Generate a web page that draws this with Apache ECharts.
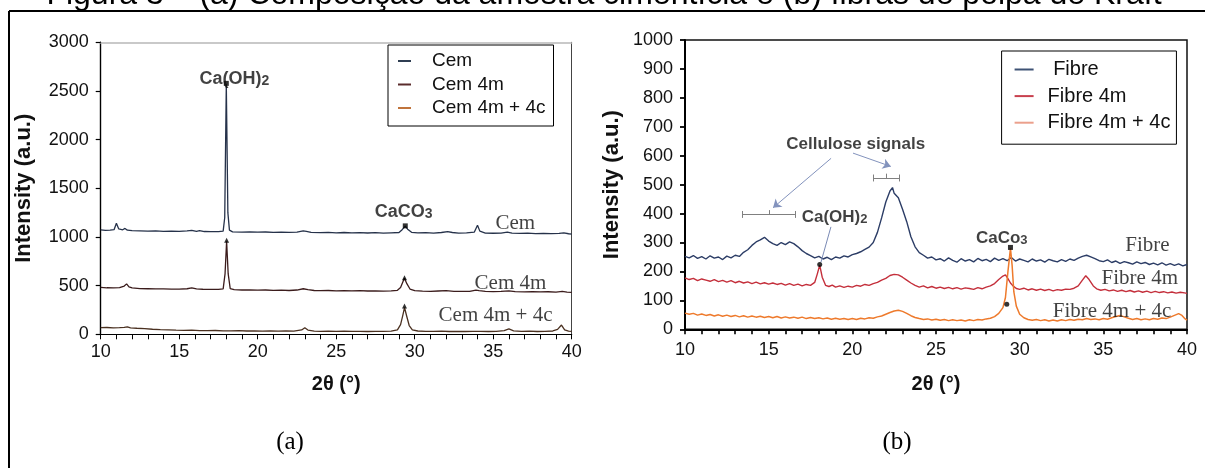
<!DOCTYPE html>
<html><head><meta charset="utf-8">
<script src="https://cdn.jsdelivr.net/npm/echarts@6/dist/echarts.min.js"></script>
<style>html,body{margin:0;padding:0;background:#fff}#c{width:1205px;height:468px}</style>
</head><body><div id="c"></div>
<script>
// ---------- data ----------
const xTickLabels = [10, 15, 20, 25, 30, 35, 40];
const namesA = ['Cem', 'Cem 4m', 'Cem 4m + 4c'];
const namesB = ['Fibre', 'Fibre 4m', 'Fibre 4m + 4c'];

const cem = [[10,1072],[10.3,1068],[10.6,1070],[10.85,1075],[11.0,1140],[11.15,1082],[11.4,1074],[11.55,1088],[11.7,1070],[12,1066],[12.5,1063],[13,1060],[13.5,1062],[14,1058],[14.5,1060],[15,1057],[15.5,1062],[15.8,1068],[16.1,1058],[16.3,1065],[16.6,1056],[17,1055],[17.5,1054],[17.8,1060],[17.9,1200],[18.0,2570],[18.1,1250],[18.2,1070],[18.4,1052],[19,1050],[19.5,1052],[20,1049],[20.5,1051],[21,1048],[21.5,1050],[22,1048],[22.5,1050],[22.9,1062],[23.1,1058],[23.4,1048],[24,1045],[24.5,1047],[25,1043],[25.5,1046],[26,1042],[26.5,1045],[27,1041],[27.5,1044],[28,1040],[28.5,1043],[29.0,1046],[29.2,1075],[29.4,1112],[29.55,1080],[29.8,1048],[30.2,1042],[30.7,1044],[31.2,1040],[31.7,1046],[32.1,1055],[32.4,1046],[32.8,1040],[33.3,1042],[33.8,1050],[34.0,1120],[34.15,1060],[34.5,1040],[35,1038],[35.5,1040],[35.9,1050],[36.2,1040],[36.7,1037],[37.2,1039],[37.7,1035],[38.2,1037],[38.7,1034],[39.2,1036],[39.5,1042],[39.8,1033],[40,1030]];
const cem4m = [[10,482],[10.4,478],[10.8,476],[11.2,480],[11.5,496],[11.65,518],[11.8,488],[12,476],[12.5,470],[13,468],[13.5,466],[14,467],[14.5,465],[15,464],[15.5,468],[15.8,478],[16.1,466],[16.5,463],[17,462],[17.5,461],[17.8,466],[17.92,620],[18.02,955],[18.12,620],[18.25,470],[18.5,458],[19,455],[19.5,457],[20,453],[20.5,455],[21,452],[21.5,453],[22,450],[22.5,455],[22.9,468],[23.2,458],[23.6,450],[24,448],[24.5,450],[25,447],[25.5,449],[26,446],[26.5,448],[27,445],[27.5,447],[28,444],[28.5,446],[28.9,452],[29.1,480],[29.25,540],[29.35,575],[29.5,520],[29.7,465],[30,448],[30.5,444],[31,442],[31.5,445],[32,448],[32.5,442],[33,440],[33.5,442],[33.9,455],[34.1,448],[34.5,440],[35,438],[35.5,440],[36,446],[36.4,438],[37,436],[37.5,438],[38,435],[38.5,437],[39,434],[39.4,440],[39.7,433],[40,430]];
const cem4m4c = [[10,68],[10.4,70],[10.8,67],[11.2,69],[11.5,72],[11.7,76],[11.9,66],[12.3,62],[12.8,58],[13.3,52],[13.8,48],[14.3,45],[14.8,42],[15.3,40],[15.8,42],[16.3,38],[16.8,37],[17.3,39],[17.8,36],[18.3,35],[18.8,37],[19.3,34],[19.8,36],[20.3,33],[20.8,35],[21.3,32],[21.8,34],[22.3,33],[22.8,45],[23.0,68],[23.2,44],[23.6,33],[24,31],[24.5,33],[25,30],[25.5,32],[26,30],[26.5,31],[27,29],[27.5,31],[28,30],[28.5,33],[28.9,45],[29.1,100],[29.25,200],[29.35,275],[29.5,180],[29.65,90],[29.85,45],[30.2,34],[30.7,31],[31.2,30],[31.7,32],[32.2,29],[32.7,31],[33.2,29],[33.7,31],[34.2,30],[34.7,29],[35.2,31],[35.7,38],[36.0,55],[36.3,36],[36.8,30],[37.3,32],[37.8,29],[38.3,31],[38.8,34],[39.1,50],[39.35,95],[39.55,45],[39.8,32],[40,30]];

const fibre = [[10,252],[10.25,247],[10.5,255],[10.75,245],[11,251],[11.25,243],[11.5,254],[11.75,246],[12,250],[12.25,241],[12.5,253],[12.75,247],[13,256],[13.25,252],[13.5,266],[13.75,275],[14,290],[14.25,302],[14.5,309],[14.75,318],[15,305],[15.25,296],[15.5,290],[15.75,300],[16,293],[16.25,302],[16.5,296],[16.75,285],[17,272],[17.25,262],[17.5,255],[17.75,247],[18,252],[18.25,243],[18.5,249],[18.75,241],[19,250],[19.25,246],[19.5,254],[19.75,250],[20,258],[20.25,262],[20.5,268],[20.75,276],[21,284],[21.25,300],[21.5,335],[21.75,385],[22,440],[22.25,478],[22.4,490],[22.5,470],[22.75,455],[23,415],[23.25,372],[23.5,320],[23.75,285],[24,265],[24.25,256],[24.5,246],[24.75,250],[25,240],[25.25,244],[25.5,236],[25.75,247],[26,238],[26.25,232],[26.5,244],[26.75,236],[27,241],[27.25,233],[27.5,245],[27.75,237],[28,242],[28.25,234],[28.5,246],[28.75,238],[29,244],[29.25,237],[29.5,248],[29.75,236],[30,243],[30.25,238],[30.5,233],[30.75,243],[31,236],[31.25,240],[31.5,232],[31.75,242],[32,237],[32.25,233],[32.5,241],[32.75,235],[33,243],[33.25,238],[33.5,246],[33.75,252],[34,256],[34.25,250],[34.5,244],[34.75,237],[35,234],[35.25,240],[35.5,231],[35.75,236],[36,228],[36.25,234],[36.5,230],[36.75,225],[37,233],[37.25,227],[37.5,231],[37.75,224],[38,229],[38.25,223],[38.5,230],[38.75,222],[39,227],[39.25,221],[39.5,226],[39.75,219],[40,224]];
const fibre4m = [[10,178],[10.25,172],[10.5,176],[10.75,168],[11,174],[11.25,170],[11.5,166],[11.75,172],[12,165],[12.25,169],[12.5,163],[12.75,168],[13,161],[13.25,166],[13.5,160],[13.75,164],[14,158],[14.25,163],[14.5,157],[14.75,161],[15,156],[15.25,160],[15.5,155],[15.75,159],[16,153],[16.25,158],[16.5,152],[16.75,156],[17,150],[17.25,155],[17.5,152],[17.75,162],[17.9,190],[18.05,222],[18.2,180],[18.4,152],[18.6,148],[18.8,153],[19,146],[19.25,150],[19.5,145],[19.75,149],[20,146],[20.25,152],[20.5,149],[20.75,155],[21,152],[21.25,158],[21.5,162],[21.75,170],[22,176],[22.25,186],[22.5,190],[22.75,188],[23,180],[23.25,170],[23.5,160],[23.75,152],[24,146],[24.25,150],[24.5,143],[24.75,148],[25,142],[25.25,146],[25.5,141],[25.75,145],[26,140],[26.25,144],[26.5,139],[26.75,143],[27,141],[27.25,138],[27.5,144],[27.75,140],[28,146],[28.25,150],[28.5,158],[28.75,172],[29,184],[29.15,188],[29.3,175],[29.45,160],[29.6,150],[29.8,141],[30,138],[30.25,142],[30.5,136],[30.75,140],[31,135],[31.25,139],[31.5,134],[31.75,138],[32,133],[32.25,137],[32.5,135],[32.75,139],[33,138],[33.25,142],[33.5,150],[33.75,170],[33.95,185],[34.15,172],[34.4,150],[34.6,140],[34.85,135],[35.1,138],[35.35,133],[35.6,136],[35.85,131],[36.1,135],[36.35,130],[36.6,134],[36.85,129],[37.1,133],[37.35,128],[37.6,132],[37.85,127],[38.1,131],[38.35,127],[38.6,130],[38.85,126],[39.1,129],[39.35,125],[39.6,128],[39.85,126],[40,124]];
const fibre4m4c = [[10,56],[10.25,52],[10.5,55],[10.75,49],[11,53],[11.25,48],[11.5,51],[11.75,46],[12,50],[12.25,45],[12.5,49],[12.75,44],[13,48],[13.25,43],[13.5,47],[13.75,42],[14,46],[14.25,42],[14.5,45],[14.75,41],[15,44],[15.25,40],[15.5,44],[15.75,39],[16,43],[16.25,39],[16.5,42],[16.75,38],[17,42],[17.25,37],[17.5,41],[17.75,37],[18,40],[18.25,36],[18.5,39],[18.75,35],[19,38],[19.25,35],[19.5,37],[19.75,34],[20,37],[20.25,34],[20.5,38],[20.75,36],[21,40],[21.25,38],[21.5,43],[21.75,46],[22,52],[22.25,58],[22.5,63],[22.75,66],[23,62],[23.25,55],[23.5,47],[23.75,41],[24,37],[24.25,34],[24.5,36],[24.75,32],[25,35],[25.25,31],[25.5,34],[25.75,30],[26,33],[26.25,30],[26.5,32],[26.75,29],[27,33],[27.25,30],[27.5,34],[27.75,32],[28,36],[28.25,38],[28.5,44],[28.75,55],[29,75],[29.15,110],[29.3,200],[29.45,280],[29.55,220],[29.65,130],[29.8,80],[30,52],[30.25,40],[30.5,34],[30.75,31],[31,34],[31.25,30],[31.5,33],[31.75,29],[32,32],[32.25,29],[32.5,33],[32.75,30],[33,34],[33.25,31],[33.5,35],[33.75,33],[34,37],[34.25,34],[34.5,36],[34.75,33],[35,37],[35.25,35],[35.5,40],[35.75,44],[36,48],[36.25,43],[36.5,38],[36.75,34],[37,37],[37.25,33],[37.5,36],[37.75,33],[38,37],[38.25,35],[38.5,39],[38.75,37],[39,42],[39.25,48],[39.5,54],[39.7,48],[39.85,38],[40,32]];

// peak markers [x, y, symbol]
const markersA = [[18.0,2578,'rect'],[18.02,965,'triangle'],[29.4,1114,'rect'],[29.35,580,'triangle'],[29.35,292,'triangle']];
const markersB = [[29.45,283,'rect'],[29.23,87,'circle'],[18.05,224,'circle']];

// text annotations [x, y, rich-text]
const annotA = [[18.52,2635,'{m|Ca(OH)}{s|2}'],[29.29,1270,'{m|CaCO}{s|3}']];
const curveLabelsA = [[36.41,1135,'Cem'],[36.1,526,'Cem 4m'],[35.15,198,'Cem 4m + 4c']];
const annotB = [[20.2,646,'{m|Cellulose signals}'],[18.94,392,'{m|Ca(OH)}{s|2}'],[28.93,319,'{m|CaCo}{s|3}']];
const curveLabelsB = [[37.64,288,'Fibre'],[37.18,174,'Fibre 4m'],[35.52,62,'Fibre 4m + 4c']];

// guide lines in panel (b), data coordinates
const arrowsB = [[[18.73,591],[15.26,420]],[[20.04,609],[22.3,563]]];
const bracketsB = [
  [[13.41,397],[16.57,397]],[[13.41,385],[13.41,409]],[[16.57,385],[16.57,409]],[[15.02,397],[15.02,412]],
  [[21.26,523],[22.80,523]],[[21.26,511],[21.26,535]],[[22.80,511],[22.80,535]],[[22.04,523],[22.04,538]]
];
const leaderB = [[[18.72,354],[18.12,231]]];

// ---------- chart ----------
const SANS = '"Liberation Sans", Arial, sans-serif';
const SERIF = '"Liberation Serif", "Times New Roman", serif';
const colorsA = ['#26324a', '#3b1c1c', '#4a3020'];
const legendColorsA = ['#2f3e52', '#5a2c2c', '#c0743c'];
const colorsB = ['#2c3d66', '#c42f3b', '#ee7a2c'];
const legendColorsB = ['#3e5275', '#c8404e', '#eba08c'];

const chart = echarts.init(document.getElementById('c'), null, {renderer: 'canvas'});

function xAxisBase(grid, axisW, tickW, labelMargin, nameGap) {
  return {
    gridIndex: grid, type: 'value', min: 10, max: 40, interval: 5,
    axisLine: {show: true, onZero: false, lineStyle: {color: '#000', width: axisW}},
    axisTick: {show: true, length: 5, lineStyle: {color: '#000', width: tickW}},
    minorTick: {show: true, splitNumber: 5, length: 5, lineStyle: {color: '#000', width: tickW}},
    splitLine: {show: false},
    axisLabel: {margin: labelMargin, fontSize: 18, color: '#111', fontFamily: SANS,
      formatter: v => xTickLabels.includes(v) ? String(v) : ''},
    name: '2θ (°)', nameLocation: 'middle', nameGap: nameGap,
    nameTextStyle: {fontSize: 20, fontWeight: 'bold', color: '#111', fontFamily: SANS}
  };
}
function yAxisBase(grid, max, interval, axisW, tickW, nameGap) {
  return {
    gridIndex: grid, type: 'value', min: 0, max: max, interval: interval,
    axisLine: {show: true, onZero: false, lineStyle: {color: '#000', width: axisW}},
    axisTick: {show: true, length: 5, lineStyle: {color: '#000', width: tickW}},
    splitLine: {show: false},
    axisLabel: {margin: 12, fontSize: 18, color: '#111', fontFamily: SANS, formatter: v => String(v)},
    name: 'Intensity (a.u.)', nameLocation: 'middle', nameRotate: 90, nameGap: nameGap,
    nameTextStyle: {fontSize: 22, fontWeight: 'bold', color: '#111', fontFamily: SANS}
  };
}

const richBold = (size, sub) => ({
  m: {fontSize: size, fontWeight: 'bold', fontFamily: SANS, color: '#111', lineHeight: size + 3, verticalAlign: 'bottom'},
  s: {fontSize: sub, fontWeight: 'bold', fontFamily: SANS, color: '#111', lineHeight: 8, verticalAlign: 'bottom'}
});

function textSeries(xi, yi, arr, labelCfg) {
  return {
    type: 'scatter', xAxisIndex: xi, yAxisIndex: yi, symbolSize: 0, silent: true, z: 20,
    data: arr.map(a => ({value: [a[0], a[1]], text: a[2]})),
    label: Object.assign({show: true, position: 'inside', formatter: p => p.data.text}, labelCfg),
    emphasis: {disabled: true}
  };
}
function markerSeries(xi, yi, arr) {
  return {
    type: 'scatter', xAxisIndex: xi, yAxisIndex: yi, silent: true, z: 15,
    data: arr.map(a => ({value: [a[0], a[1]], symbol: a[2]})),
    symbolSize: 5, itemStyle: {color: '#000'}, emphasis: {disabled: true}
  };
}
function lineSeries(name, data, color, xi, yi, w) {
  return {
    type: 'line', name: name, data: data, xAxisIndex: xi, yAxisIndex: yi,
    symbol: 'none', showSymbol: false, lineStyle: {color: color, width: w},
    itemStyle: {color: color}, emphasis: {disabled: true}, z: 5
  };
}
function segSeries(segs, color, width, arrow) {
  return {
    type: 'lines', coordinateSystem: 'cartesian2d', xAxisIndex: 2, yAxisIndex: 2, silent: true,
    data: segs.map(s => ({coords: s})),
    symbol: arrow ? ['none', 'arrow'] : ['none', 'none'], symbolSize: 8,
    lineStyle: {color: color, width: width, opacity: 1}, z: 12
  };
}

const option = {
  animation: false,
  backgroundColor: '#fff',
  grid: [
    {left: 100.7, top: 42.3, width: 471, height: 292, show: false},
    {left: 685, top: 40, width: 502, height: 289.3, show: true, borderColor: '#111', borderWidth: 1.5, backgroundColor: 'transparent'}
  ],
  xAxis: [
    xAxisBase(0, 1.2, 1, 9, 40),
    {gridIndex: 0, type: 'value', min: 10, max: 40, position: 'top',
     axisLine: {show: true, onZero: false, lineStyle: {color: '#b8b8b8', width: 1.5}},
     axisTick: {show: false}, axisLabel: {show: false}, splitLine: {show: false}},
    xAxisBase(1, 2, 1.6, 12, 45)
  ],
  yAxis: [
    yAxisBase(0, 3000, 500, 1.4, 1.2, 66),
    {gridIndex: 0, type: 'value', min: 0, max: 3000, position: 'right',
     axisLine: {show: true, onZero: false, lineStyle: {color: '#444', width: 1}},
     axisTick: {show: false}, axisLabel: {show: false}, splitLine: {show: false}},
    yAxisBase(1, 1000, 100, 2, 1.8, 62)
  ],
  legend: [
    {left: 388, top: 45, orient: 'vertical', selectedMode: false,
     data: namesA.map((n, i) => ({name: n, itemStyle: {color: legendColorsA[i]}, lineStyle: {color: legendColorsA[i]}})),
     icon: 'rect', itemWidth: 13, itemHeight: 2, itemGap: 3.5, padding: [6, 8, 8, 10],
     borderColor: '#000', borderWidth: 1, backgroundColor: '#fff',
     textStyle: {fontSize: 19, fontFamily: SANS, color: '#111', lineHeight: 20, padding: [0, 0, 0, 16]}},
    {left: 1001.6, top: 51, orient: 'vertical', selectedMode: false,
     data: namesB.map((n, i) => ({name: n, itemStyle: {color: legendColorsB[i]}, lineStyle: {color: legendColorsB[i]}})),
     formatter: n => n === 'Fibre' ? ' ' + n : n,
     icon: 'rect', itemWidth: 19, itemHeight: 2, itemGap: 5.6, padding: [8, 6, 11, 13],
     borderColor: '#000', borderWidth: 1, backgroundColor: '#fff',
     textStyle: {fontSize: 20, fontFamily: SANS, color: '#111', lineHeight: 21, padding: [0, 0, 0, 9]}}
  ],
  series: [
    lineSeries(namesA[0], cem, colorsA[0], 0, 0, 1.3),
    lineSeries(namesA[1], cem4m, colorsA[1], 0, 0, 1.3),
    lineSeries(namesA[2], cem4m4c, colorsA[2], 0, 0, 1.3),
    lineSeries(namesB[0], fibre, colorsB[0], 2, 2, 1.4),
    lineSeries(namesB[1], fibre4m, colorsB[1], 2, 2, 1.4),
    lineSeries(namesB[2], fibre4m4c, colorsB[2], 2, 2, 1.5),
    markerSeries(0, 0, markersA),
    markerSeries(2, 2, markersB),
    segSeries(arrowsB, '#8393bd', 1, true),
    segSeries(bracketsB, '#808080', 1, false),
    segSeries(leaderB, '#7a8ab5', 1, false),
    textSeries(0, 0, annotA, {rich: richBold(18, 14)}),
    textSeries(0, 0, curveLabelsA, {fontFamily: SERIF, fontSize: 21, color: '#111'}),
    textSeries(2, 2, annotB, {rich: richBold(17, 13)}),
    textSeries(2, 2, curveLabelsB, {fontFamily: SERIF, fontSize: 21, color: '#111'})
  ],
  graphic: [
    {type: 'text', silent: true, style: {text: 'Figura 3 – (a) Composição da amostra cimentícia e (b) fibras de polpa de Kraft',
      x: 604, y: -5, textAlign: 'center', textVerticalAlign: 'middle', font: '32px ' + SANS, fill: '#000'}},
    {type: 'line', silent: true, shape: {x1: 9, y1: 11, x2: 1205, y2: 11}, style: {stroke: '#000', lineWidth: 2}},
    {type: 'line', silent: true, shape: {x1: 9, y1: 11, x2: 9, y2: 468}, style: {stroke: '#000', lineWidth: 2}},
    {type: 'text', silent: true, style: {text: '(a)', x: 290, y: 442, textAlign: 'center', textVerticalAlign: 'middle', font: '25px ' + SERIF, fill: '#000'}},
    {type: 'text', silent: true, style: {text: '(b)', x: 897, y: 442, textAlign: 'center', textVerticalAlign: 'middle', font: '25px ' + SERIF, fill: '#000'}}
  ]
};
chart.setOption(option);
</script>
</body></html>
